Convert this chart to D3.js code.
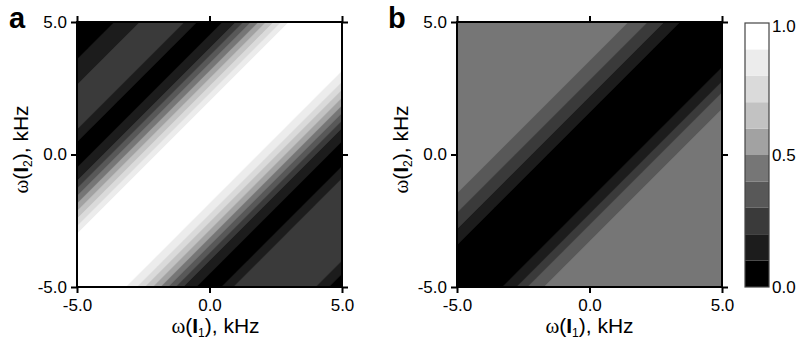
<!DOCTYPE html>
<html><head><meta charset="utf-8">
<script src="https://cdn.jsdelivr.net/npm/d3@7"></script>
<style>
body{margin:0;background:#fff;}
svg{display:block;font-family:"Liberation Sans",Arial,sans-serif;}
</style></head><body>
<svg id="chart" width="804" height="344"></svg>
<script>
// ---------- data ----------
const omega1 = [-5, -4, -3, -2, -1, 0, 1, 2, 3, 4, 5];      // grid columns (kHz)
const omega2 = [5, 4, 3, 2, 1, 0, -1, -2, -3, -4, -5];      // grid rows, top to bottom (kHz)
const axisTicks = [-5, 0, 5];
const axisTickLabels = ["-5.0", "0.0", "5.0"];
const levels = [0, 0.1, 0.2, 0.3, 0.4, 0.5, 0.6, 0.7, 0.8, 0.9];
const levelColors = ["#000000", "#1c1c1c", "#3a3a3a", "#585858", "#767676",
                     "#a2a2a2", "#c2c2c2", "#dadada", "#ececec", "#ffffff"];
const colorbarTicks = [0, 0.5, 1];
const colorbarTickLabels = ["0.0", "0.5", "1.0"];
const panelLabels = ["a", "b"];

// panel a values, rows = omega2 (5 .. -5), columns = omega1 (-5 .. 5)
const gridA = [
  [0.00, 0.05, 0.17, 0.25, 0.21, 0.00, 0.20, 0.55, 0.90, 1.00, 1.00],
  [0.05, 0.17, 0.25, 0.21, 0.00, 0.20, 0.55, 0.90, 1.00, 1.00, 1.00],
  [0.17, 0.25, 0.21, 0.00, 0.20, 0.55, 0.90, 1.00, 1.00, 1.00, 0.88],
  [0.25, 0.21, 0.00, 0.20, 0.55, 0.90, 1.00, 1.00, 1.00, 0.88, 0.55],
  [0.21, 0.00, 0.20, 0.55, 0.90, 1.00, 1.00, 1.00, 0.88, 0.55, 0.20],
  [0.00, 0.20, 0.55, 0.90, 1.00, 1.00, 1.00, 0.88, 0.55, 0.20, 0.00],
  [0.20, 0.55, 0.90, 1.00, 1.00, 1.00, 0.88, 0.55, 0.20, 0.00, 0.22],
  [0.55, 0.90, 1.00, 1.00, 1.00, 0.88, 0.55, 0.20, 0.00, 0.22, 0.27],
  [0.90, 1.00, 1.00, 1.00, 0.88, 0.55, 0.20, 0.00, 0.22, 0.27, 0.26],
  [1.00, 1.00, 1.00, 0.88, 0.55, 0.20, 0.00, 0.22, 0.27, 0.26, 0.20],
  [1.00, 1.00, 0.88, 0.55, 0.20, 0.00, 0.22, 0.27, 0.26, 0.20, 0.00]
];
// panel b values
const gridB = [
  [0.45, 0.45, 0.45, 0.45, 0.45, 0.45, 0.46, 0.33, 0.17, 0.00, 0.00],
  [0.45, 0.45, 0.45, 0.45, 0.45, 0.46, 0.33, 0.17, 0.00, 0.00, 0.00],
  [0.45, 0.45, 0.45, 0.45, 0.46, 0.33, 0.17, 0.00, 0.00, 0.00, 0.14],
  [0.45, 0.45, 0.45, 0.46, 0.33, 0.17, 0.00, 0.00, 0.00, 0.14, 0.38],
  [0.45, 0.45, 0.46, 0.33, 0.17, 0.00, 0.00, 0.00, 0.14, 0.38, 0.45],
  [0.45, 0.46, 0.33, 0.17, 0.00, 0.00, 0.00, 0.14, 0.38, 0.45, 0.45],
  [0.46, 0.33, 0.17, 0.00, 0.00, 0.00, 0.14, 0.38, 0.45, 0.45, 0.45],
  [0.33, 0.17, 0.00, 0.00, 0.00, 0.14, 0.38, 0.45, 0.45, 0.45, 0.45],
  [0.17, 0.00, 0.00, 0.00, 0.14, 0.38, 0.45, 0.45, 0.45, 0.45, 0.45],
  [0.00, 0.00, 0.00, 0.14, 0.38, 0.45, 0.45, 0.45, 0.45, 0.45, 0.45],
  [0.00, 0.00, 0.14, 0.38, 0.45, 0.45, 0.45, 0.45, 0.45, 0.45, 0.45]
];

// ---------- layout ----------
const svg = d3.select("#chart");
const plotTop = 22, plotSize = 265;
const panels = [
  {label: panelLabels[0], grid: gridA, left: 77,  labelX: 9,   titleShift: 6, sub: "1", ysub: "2"},
  {label: panelLabels[1], grid: gridB, left: 457, labelX: 388, titleShift: 0, sub: "1", ysub: "2"}
];
const color = d3.scaleThreshold().domain(levels.slice(1)).range(levelColors);
const nx = omega1.length, ny = omega2.length;

function axisTitle(sel, sub) {
  sel.append("tspan").attr("font-family", "'Liberation Serif', 'Times New Roman', serif").text("ω");
  sel.append("tspan").text("(");
  sel.append("tspan").attr("font-weight", "bold").text("I");
  sel.append("tspan").attr("font-size", "12px").attr("dy", 4).text(sub);
  sel.append("tspan").attr("dy", -4).text("), kHz");
}

panels.forEach((p, i) => {
  const x = d3.scaleLinear().domain([-5, 5]).range([p.left, p.left + plotSize]);
  const y = d3.scaleLinear().domain([-5, 5]).range([plotTop + plotSize, plotTop]);
  // grid sample k sits at contour coordinate k + 0.5
  const gx = d3.scaleLinear().domain([0.5, nx - 0.5]).range([x(omega1[0]), x(omega1[nx - 1])]);
  const gy = d3.scaleLinear().domain([0.5, ny - 0.5]).range([y(omega2[0]), y(omega2[ny - 1])]);
  const contours = d3.contours().size([nx, ny]).thresholds(levels)(p.grid.flat());
  const path = d3.geoPath(d3.geoTransform({
    point(px, py) { this.stream.point(gx(px), gy(py)); }
  }));

  const clipId = "clip" + i;
  svg.append("clipPath").attr("id", clipId)
    .append("rect").attr("x", p.left).attr("y", plotTop).attr("width", plotSize).attr("height", plotSize);

  svg.append("g").attr("clip-path", `url(#${clipId})`)
    .selectAll("path").data(contours).join("path")
    .attr("d", path)
    .attr("fill", d => color(d.value))
    .attr("stroke", d => color(d.value))
    .attr("stroke-width", 0.6);

  // axes
  const fmt = (d) => axisTickLabels[axisTicks.indexOf(d)];
  const styleAxis = g => {
    g.select(".domain").remove();
    g.selectAll(".tick line").attr("stroke", "#000").attr("stroke-width", 2);
    g.selectAll(".tick text").attr("fill", "#000").attr("font-size", "17px")
      .attr("font-family", "'Liberation Sans', Arial, sans-serif");
  };
  svg.append("g").attr("transform", `translate(${p.left},0)`)
    .call(d3.axisLeft(y).tickValues(axisTicks).tickSize(6).tickPadding(4).tickFormat(fmt)).call(styleAxis);
  svg.append("g").attr("transform", `translate(0,${plotTop + plotSize})`)
    .call(d3.axisBottom(x).tickValues(axisTicks).tickSize(6).tickPadding(6).tickFormat(fmt)).call(styleAxis);
  svg.append("g").attr("transform", `translate(${p.left + plotSize},0)`)
    .call(d3.axisRight(y).tickValues(axisTicks).tickSize(6).tickFormat("")).call(styleAxis);
  svg.append("g").attr("transform", `translate(0,${plotTop})`)
    .call(d3.axisTop(x).tickValues(axisTicks).tickSize(6).tickFormat("")).call(styleAxis);

  svg.append("rect").attr("x", p.left).attr("y", plotTop).attr("width", plotSize).attr("height", plotSize)
    .attr("fill", "none").attr("stroke", "#000").attr("stroke-width", 2);

  // titles
  svg.append("text").attr("x", x(0) + p.titleShift).attr("y", 333).attr("text-anchor", "middle")
    .attr("font-size", "21px").call(t => axisTitle(t, p.sub));
  svg.append("text").attr("transform", `translate(${p.left - 49},${y(0) - 5}) rotate(-90)`)
    .attr("text-anchor", "middle").attr("font-size", "21px").call(t => axisTitle(t, p.ysub));

  svg.append("text").attr("x", p.labelX).attr("y", 28).attr("font-size", "29px")
    .attr("font-weight", "bold").text(p.label);
});

// ---------- colorbar ----------
const cbX = 745, cbW = 24;
const cb = d3.scaleLinear().domain([0, 1]).range([plotTop + plotSize, plotTop + 1]);
const upper = levels.map((l, i) => i + 1 < levels.length ? levels[i + 1] : 1);
svg.append("g").selectAll("rect").data(levels).join("rect")
  .attr("x", cbX).attr("width", cbW)
  .attr("y", (d, i) => cb(upper[i]))
  .attr("height", (d, i) => cb(d) - cb(upper[i]))
  .attr("fill", d => color(d));
svg.append("rect").attr("x", cbX).attr("y", cb(1)).attr("width", cbW).attr("height", cb(0) - cb(1))
  .attr("fill", "none").attr("stroke", "#444").attr("stroke-width", 1.2);
svg.append("g").selectAll("text").data(colorbarTicks).join("text")
  .attr("x", cbX + cbW + 3).attr("y", d => cb(d)).attr("dy", d => d === 1 ? "0.5em" : "0.36em")
  .attr("font-size", "17px").attr("fill", "#000")
  .text((d, i) => colorbarTickLabels[i]);
</script>
</body></html>
